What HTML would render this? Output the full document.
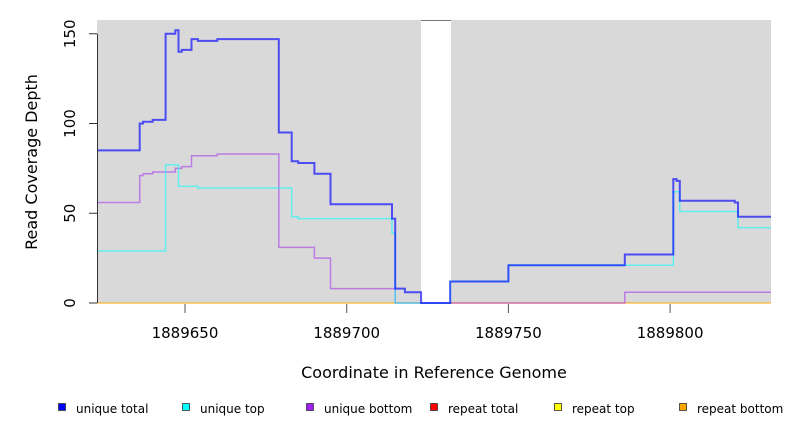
<!DOCTYPE html>
<html><head><meta charset="utf-8"><style>
body{margin:0;background:#fff;width:792px;height:432px;overflow:hidden}
svg text{font-family:"DejaVu Sans","Liberation Sans",sans-serif;fill:#000}
</style></head><body>
<svg id="c" width="792" height="432" xmlns="http://www.w3.org/2000/svg">
<rect x="97" y="20" width="324" height="283" fill="#d9d9d9"/>
<rect x="451" y="20" width="320" height="283" fill="#d9d9d9"/>
<line x1="421" y1="20.5" x2="451" y2="20.5" stroke="#777"/>
<g id="series"></g>
<g id="axes"></g>
<text x="434" y="378" font-size="16" text-anchor="middle">Coordinate in Reference Genome</text>
<text transform="translate(37,162) rotate(-90)" font-size="16" text-anchor="middle">Read Coverage Depth</text>
<g id="legend"></g>
</svg>
<script>
const xTicks=[1889650,1889700,1889750,1889800];
const yTicks=[0,50,100,150];
const totalStarts=[1889622.8,1889636,1889637,1889640,1889644,1889647,1889648,1889649,1889652,1889654,1889660,1889679,1889683,1889685,1889690,1889695,1889714,1889715,1889718,1889723,1889732,1889750,1889786,1889801,1889802,1889803,1889820,1889821];
const totalVals=[85,100,101,102,150,152,140,141,147,146,147,95,79,78,72,55,47,8,6,0,12,21,27,69,68,57,56,48];
const topStarts=[1889622.8,1889644,1889648,1889654,1889683,1889685,1889714,1889715,1889732,1889750,1889801,1889803,1889820,1889821];
const topVals=[29,77,65,64,48,47,39,0,12,21,62,51,51,42];
const botStarts=[1889622.8,1889636,1889637,1889640,1889647,1889649,1889652,1889660,1889679,1889690,1889695,1889715,1889786];
const botVals=[56,71,72,73,75,76,82,83,31,25,8,0,6];
const repStarts=[1889622.8];
const repVals=[0];
const xEnd=1889831.2;
const X=c=>185+(c-1889650)*3.234;
const Y=v=>303-v*1.795;
const NS="http://www.w3.org/2000/svg";
const svg=document.getElementById('c');
function mk(t,a,p){const e=document.createElementNS(NS,t);for(const k in a)e.setAttribute(k,a[k]);p.appendChild(e);return e;}
function stepPath(st,vals){let d='';for(let i=0;i<st.length;i++){const x0=X(st[i]),x1=X(i+1<st.length?st[i+1]:xEnd),y=Y(vals[i]);d+=(i?'L':'M')+x0.toFixed(1)+' '+y.toFixed(1)+'L'+x1.toFixed(1)+' '+y.toFixed(1);}return d;}
const sg=document.getElementById('series');
let p;
p=mk('path',{d:stepPath(repStarts,repVals),fill:'none',stroke:'#ff0000','stroke-opacity':0.6,'stroke-width':1},sg);

p=mk('path',{d:stepPath(repStarts,repVals),fill:'none',stroke:'#ffff00','stroke-opacity':0.6,'stroke-width':1},sg);

p=mk('path',{d:stepPath(repStarts,repVals),fill:'none',stroke:'#ffa500','stroke-opacity':0.9,'stroke-width':1},sg);

p=mk('path',{d:stepPath(botStarts,botVals),fill:'none',stroke:'#a020f0','stroke-opacity':0.5,'stroke-width':1.5},sg);

p=mk('path',{d:stepPath(topStarts,topVals),fill:'none',stroke:'#00ffff','stroke-opacity':0.55,'stroke-width':1.5},sg);

p=mk('path',{d:stepPath(totalStarts,totalVals),fill:'none',stroke:'#0000ff','stroke-opacity':0.65,'stroke-width':2},sg);

const ag=document.getElementById('axes');
let e=mk('line',{x1:97.5,y1:Y(150),x2:97.5,y2:303,stroke:'#333'},ag);

yTicks.forEach(v=>{const y=Y(v);
 let t=mk('line',{x1:89,y1:y,x2:97,y2:y,stroke:'#333'},ag);
 
 let l=mk('text',{transform:`translate(75,${y}) rotate(-90)`,'font-size':15,'text-anchor':'middle'},ag);
 l.textContent=v;
 });
xTicks.forEach(v=>{const x=X(v);
 let t=mk('line',{x1:x,y1:304,x2:x,y2:313,stroke:'#555'},ag);
 
 let l=mk('text',{x:x,y:338,'font-size':15,'text-anchor':'middle'},ag);
 l.textContent=v;
 });
const legNames=['unique total','unique top','unique bottom','repeat total','repeat top','repeat bottom'];
const legColors=['#0000ff','#00ffff','#a020f0','#ff0000','#ffff00','#ffa500'];
const legX=[58,182,306,430,554,679];
const lg=document.getElementById('legend');
legNames.forEach((n,i)=>{
 let g=mk('g',{},lg);
 
 mk('rect',{x:legX[i]+0.5,y:403.5,width:7,height:7,fill:legColors[i],stroke:'#333','stroke-width':0.8},g);
 let t=mk('text',{x:legX[i]+18,y:413,'font-size':12},g);t.textContent=n;});
</script>
</body></html>
